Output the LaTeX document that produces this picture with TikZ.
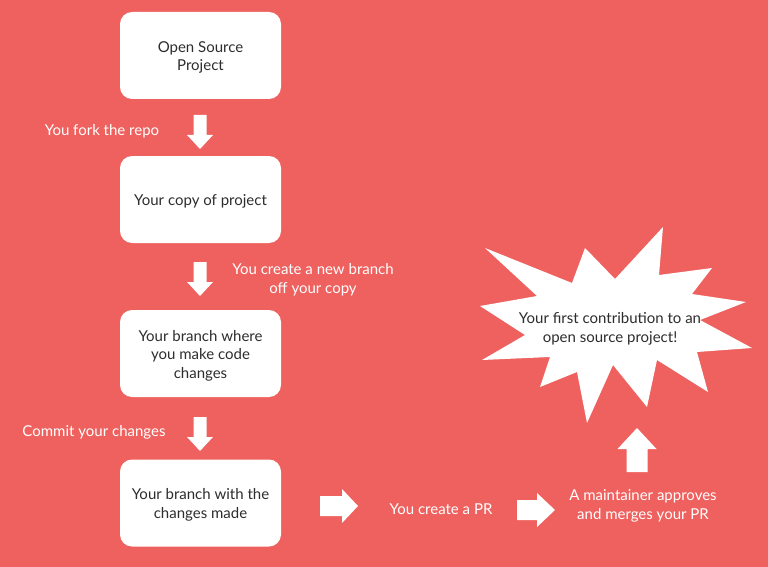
\documentclass[tikz,border=0pt]{standalone}
\usepackage{fontspec}
\setmainfont{Lato}
\usepackage{tikz}
\usetikzlibrary{positioning}
\definecolor{prbg}{RGB}{238,97,94}
\definecolor{prtext}{RGB}{45,45,45}

\tikzset{
  stepbox/.style={fill=white,rounded corners=12pt,minimum width=161pt,minimum height=87pt},
  boxtext/.style={align=center,text=prtext,font=\fontsize{15}{18.5}\selectfont},
  note/.style={text=white,align=center,font=\fontsize{15}{18.5}\selectfont},
  pics/fatarrow/.style args={#1/#2/#3/#4}{code={
    \fill[white] (-#2/2,0)--(#2/2,0)--(#2/2,#1-#4)--(#3/2,#1-#4)--(0,#1)
      --(-#3/2,#1-#4)--(-#2/2,#1-#4)--cycle;}}
}

\begin{document}
\begin{tikzpicture}[x=1pt,y=-1pt]
    \fill[prbg] (0,0) rectangle (768,567);
    \useasboundingbox (0,0) rectangle (768,567);

    % Boxes
    \node[stepbox] (open) at (200.5,55.5) {};
    \node[stepbox] (copy) at (200.5,199.5) {};
    \node[stepbox] (branch) at (200.5,353.5) {};
    \node[stepbox] (made) at (200.5,503) {};
    \node[boxtext] (opentxt) at ([yshift=-2pt]open) {Open Source\\Project};
    \node[boxtext] (copytxt) at ([yshift=-2pt]copy) {Your copy of project};
    \node[boxtext] (branchtxt) at ([yshift=-2pt]branch) {Your branch where\\you make code\\changes};
    \node[boxtext] (madetxt) at ([yshift=-2pt]made) {Your branch with the\\changes made};

    % Arrows
    \foreach \y in {115,262,417}
        \pic at (200,\y) {fatarrow=34/13/26/14};
    \pic[rotate=90] at (320,506) {fatarrow=38/20/34/16};
    \pic[rotate=90] at (517,510) {fatarrow=38/20/34/18};
    \pic[rotate=180] at (637,472) {fatarrow=44/21/39/21};

    % Labels
    \node[note] (fork) at (102,131) {You fork the repo};
    \node[note] (newbranch) at (313,280) {You create a new branch\\off your copy};
    \node[note] (commit) at (94,432) {Commit your changes};
    \node[note] (pr) at (441,509) {You create a PR};
    \node[note] (merge) at (643,506) {A maintainer approves\\and merges your PR};

    % Starburst
    \fill[white] (485,248)--(572,283)--(585,248)--(615,279)--(663,227)--(659,275)
        --(712,268)--(692,294)--(746,302)--(700,320)--(752,348)--(697,352)
        --(708,392)--(657,360)--(647,407)--(613,365)--(587,423)--(577,372)
        --(540,387)--(550,357)--(482,360)--(525,335)--(480,306)--(537,296)--cycle;
    \node[boxtext] (goal) at (610,329) {Your first contribution to an\\open source project!};
\end{tikzpicture}
\end{document}
